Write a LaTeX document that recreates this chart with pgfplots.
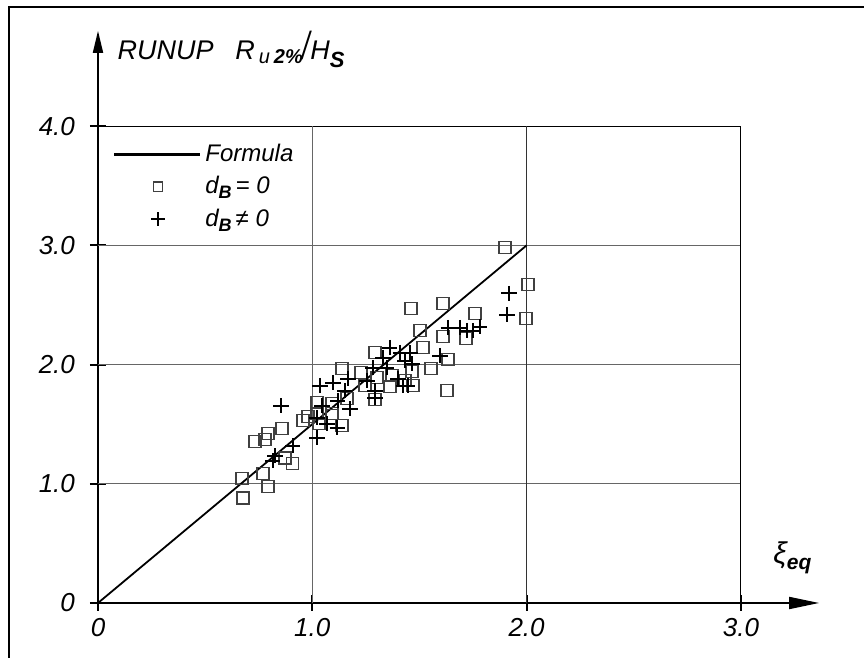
\documentclass[border=0pt]{standalone}
\usepackage{fontspec}
\setmainfont{Liberation Sans}
\usepackage{graphicx}
\usepackage{pgfplots}
\usepackage{pgfplotstable}
\pgfplotsset{compat=1.18}
\usetikzlibrary{arrows.meta}

\pgfplotstableread{
x y
1.899 2.983
2.006 2.672
1.997 2.387
1.759 2.429
1.610 2.513
1.717 2.218
1.610 2.235
1.460 2.471
1.503 2.286
1.517 2.143
1.634 2.042
1.554 1.966
1.465 1.941
1.629 1.782
1.372 1.908
1.362 1.815
1.470 1.824
1.293 2.101
1.138 1.966
1.227 1.933
1.302 1.891
1.293 1.706
1.246 1.824
1.022 1.681
1.092 1.672
1.162 1.714
0.957 1.529
0.980 1.563
1.092 1.588
1.138 1.487
1.031 1.504
1.433 1.866
0.672 1.042
0.677 0.882
0.794 0.975
0.770 1.084
0.733 1.353
0.780 1.370
0.794 1.420
0.859 1.462
0.873 1.218
0.909 1.168
1.022 1.588
}\squaredata

\pgfplotstableread{
x y
1.918 2.597
1.909 2.420
1.634 2.311
1.689 2.311
1.722 2.286
1.750 2.286
1.782 2.319
1.596 2.076
1.362 2.143
1.410 2.101
1.456 2.101
1.465 2.008
1.400 1.882
1.446 1.824
1.330 2.059
1.283 1.975
1.348 1.975
1.036 1.824
1.097 1.849
1.167 1.882
1.152 1.782
1.255 1.866
1.293 1.782
1.293 1.723
1.424 1.824
1.045 1.655
1.119 1.697
1.176 1.630
1.022 1.555
1.069 1.504
1.116 1.471
1.022 1.387
0.854 1.655
0.909 1.319
0.826 1.235
0.816 1.193
1.433 2.034
}\crossdata

\pgfplotsset{
  formulaleg/.style={legend image code/.code={\draw[##1, line width=1.2pt] (0pt,0pt) -- (43pt,0pt);}},
  squareleg/.style={legend image code/.code={\draw[##1, mark size=2.3pt] plot coordinates {(22pt,0pt)};}},
  crossleg/.style={legend image code/.code={\draw[##1, mark size=3.5pt] plot coordinates {(22pt,0pt)};}},
}

\begin{document}
\begin{tikzpicture}[font=\fontsize{12}{14}\selectfont\itshape]
\begin{axis}[
  x=107.15pt, y=59.6pt,
  xmin=0, xmax=3.365, ymin=0, ymax=4.8,
  axis lines=left,
  axis line style={line width=0.9pt},
  x axis line style={-{Triangle[length=15pt,width=6pt]}},
  y axis line style={-{Triangle[length=11pt,width=5pt]}},
  xtick={0,1,2,3}, xticklabels={0,1.0,2.0,3.0},
  ytick={0,1,2,3,4}, yticklabels={0,1.0,2.0,3.0,4.0},
  tick align=center, major tick length=8pt,
  tick style={line width=1pt, black},
  /pgf/number format/assume math mode=true,
  ticklabel style={font=\fontsize{13}{15}\selectfont\itshape},
  yticklabel style={xshift=-4pt},
  clip=false,
  legend style={at={(axis cs:0.04,3.92)}, anchor=north west, draw=none, fill=none,
    row sep=2pt, font=\fontsize{12}{14}\selectfont\itshape},
  legend cell align=left,
]
\coordinate (O) at (axis cs:0,0);
% grid
\addplot[black!60, line width=0.5pt, forget plot] coordinates {(0,1) (3,1)};
\addplot[black!60, line width=0.5pt, forget plot] coordinates {(0,2) (3,2)};
\addplot[black!60, line width=0.5pt, forget plot] coordinates {(0,3) (3,3)};
\addplot[black, line width=0.5pt, forget plot] coordinates {(0,4) (3,4)};
\addplot[black!60, line width=0.5pt, forget plot] coordinates {(1,0) (1,4)};
\addplot[black!80, line width=0.5pt, forget plot] coordinates {(2,0) (2,4)};
\addplot[black, line width=0.5pt, forget plot] coordinates {(3,0) (3,4)};

\addplot[black, line width=0.9pt, formulaleg]
  coordinates {(0,0) (2,3)};
\addlegendentry{Formula}

\addplot[only marks, mark=square, mark size=3pt, black!75, mark options={line width=0.7pt}, squareleg]
  table {\squaredata};
\addlegendentry{d\raisebox{-2.5pt}{\fontsize{9}{9}\selectfont\bfseries B}\,= 0}

\addplot[only marks, mark=+, mark size=3.8pt, black, mark options={line width=1pt}, crossleg]
  table {\crossdata};
\addlegendentry{d\raisebox{-2.5pt}{\fontsize{9}{9}\selectfont\bfseries B}\,≠ 0}

\node[anchor=base west, inner sep=0pt, font=\fontsize{13.5}{15}\selectfont\itshape] at (axis cs:0.09,4.56)
  {RUNUP\hspace{0.8em}R\hspace{0.15em}\raisebox{-2pt}{\fontsize{10}{10}\selectfont u\hspace{0.2em}\bfseries 2\%}\scalebox{1}[1.45]{/}H\raisebox{-4pt}{\fontsize{11}{11}\selectfont\bfseries S}};
\node[anchor=base west, inner sep=0pt, font=\fontsize{15}{17}\selectfont\itshape] at (axis cs:3.15,0.33)
  {ξ\raisebox{-3pt}{\fontsize{10.5}{11}\selectfont\bfseries eq}};
\end{axis}
\pgfresetboundingbox
\path[use as bounding box] ([xshift=-49pt,yshift=-27.5pt]O) rectangle ([xshift=383pt,yshift=301.5pt]O);
\draw[line width=1pt] ([xshift=-44.5pt,yshift=-60pt]O) -- ([xshift=-44.5pt,yshift=298pt]O) -- ([xshift=420pt,yshift=298pt]O);
\end{tikzpicture}
\end{document}
